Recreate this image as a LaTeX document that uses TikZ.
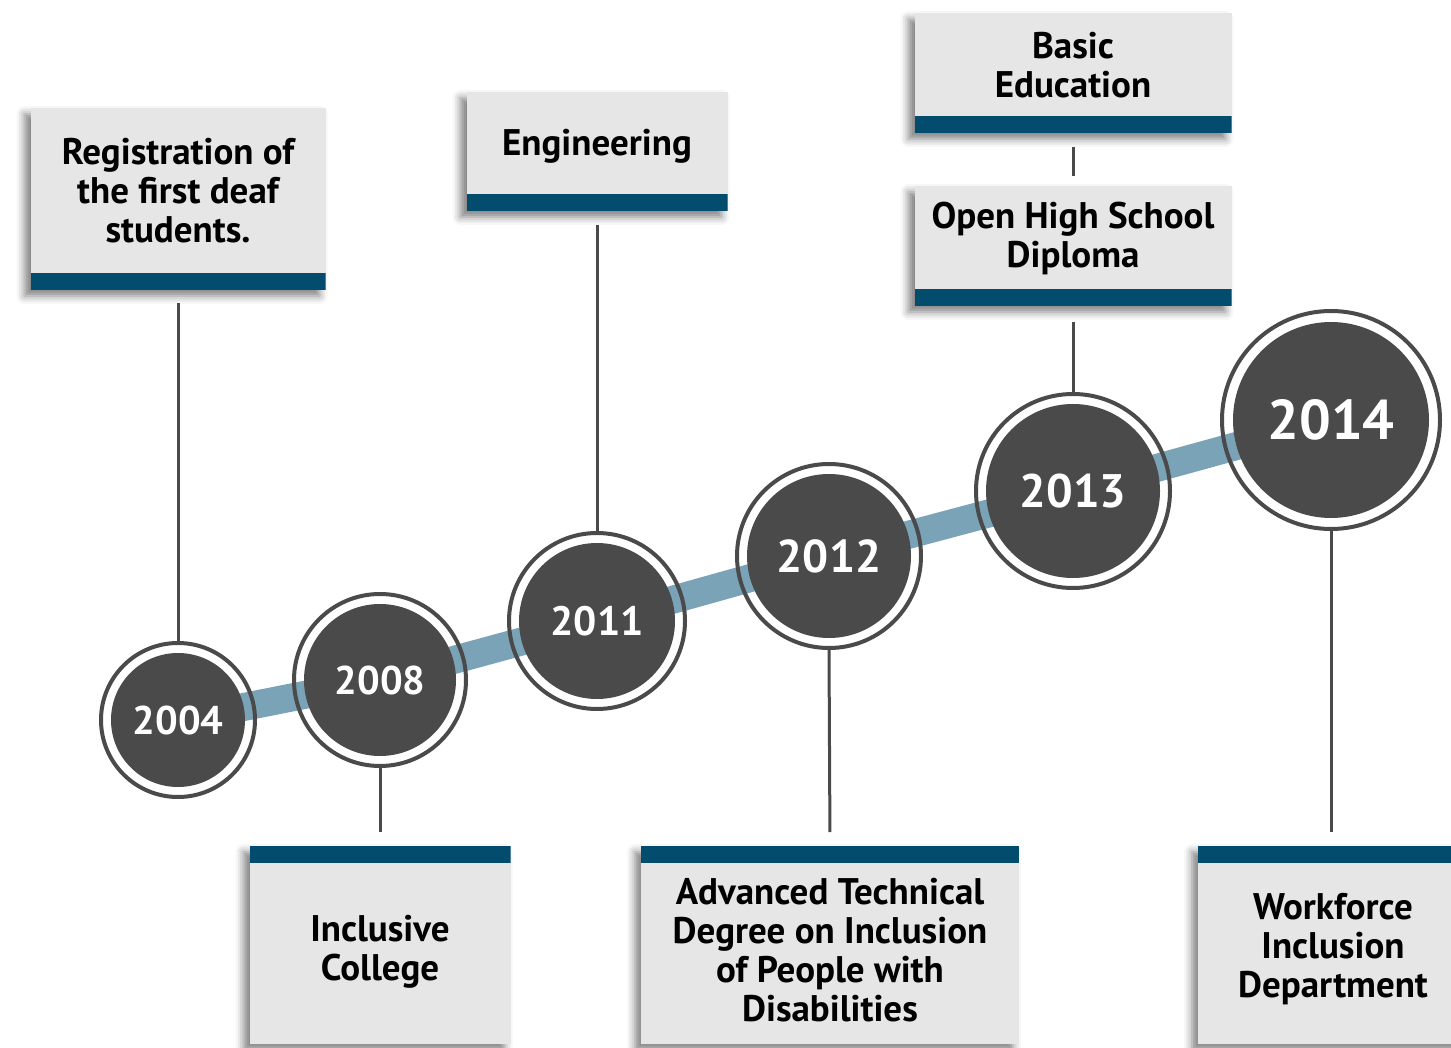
\documentclass[tikz,border=0pt]{standalone}
\usepackage{fontspec}
\setmainfont{PT Sans}
\usetikzlibrary{shadows.blur}
\definecolor{barblue}{RGB}{4,76,110}
\definecolor{boxgray}{RGB}{230,230,230}
\definecolor{darkgray}{RGB}{74,74,74}
\definecolor{lineblue}{RGB}{123,163,183}
\begin{document}
\begin{tikzpicture}[x=1pt,y=-1pt,
  card/.style={fill=boxgray, draw=none, inner sep=0pt, outer sep=0pt,
    blur shadow={shadow xshift=-6pt, shadow yshift=-6pt, shadow blur radius=8pt, shadow opacity=50}},
  topcard/.style={card, path picture={\fill[barblue] (path picture bounding box.south west) rectangle ([yshift=17pt]path picture bounding box.south east);}},
  botcard/.style={card, path picture={\fill[barblue] (path picture bounding box.north west) rectangle ([yshift=-17pt]path picture bounding box.north east);}},
  cardtext/.style={font=\bfseries\fontsize{37}{39}\selectfont, align=center, text=black, inner sep=0pt},
  whitedisk/.style={circle, fill=white, draw=none, inner sep=0pt, outer sep=0pt},
  ring/.style={circle, draw=darkgray, line width=4pt, inner sep=0pt},
  disk/.style={circle, fill=darkgray, inner sep=0pt, text=white},
  conn/.style={draw=darkgray, line width=3pt},
  band/.style={draw=lineblue, line width=28pt, line join=round}
]
\useasboundingbox (0,0) rectangle (1451,1048);

% cards
\node[topcard, minimum width=295pt, minimum height=182pt] (b1) at (178,199) {};
\node[cardtext] (t1) at (178,191) {Registration of\\the first deaf\\students.};
\node[topcard, minimum width=261pt, minimum height=119pt] (b2) at (597,151.5) {};
\node[cardtext] (t2) at (597,146) {Engineering};
\node[topcard, minimum width=317pt, minimum height=120pt] (b3) at (1073,73) {};
\node[cardtext] (t3) at (1073,65) {Basic\\Education};
\node[topcard, minimum width=317pt, minimum height=120pt] (b4) at (1073,246) {};
\node[cardtext] (t4) at (1073,238) {Open High School\\Diploma};
\node[botcard, minimum width=261pt, minimum height=198pt] (b5) at (380,945) {};
\node[cardtext] (t5) at (380,952) {Inclusive\\College};
\node[botcard, minimum width=378pt, minimum height=198pt] (b6) at (830,945) {};
\node[cardtext] (t6) at (830,950) {Advanced Technical\\Degree on Inclusion\\of People with\\Disabilities};
\node[botcard, minimum width=266pt, minimum height=198pt] (b7) at (1331,945) {};
\node[cardtext] (t7) at (1333,949) {Workforce\\Inclusion\\Department};

% white disks
\node[whitedisk, minimum size=158pt] (w2004) at (178,720) {};
\node[whitedisk, minimum size=176pt] (w2008) at (380,680) {};
\node[whitedisk, minimum size=180pt] (w2011) at (597,621) {};
\node[whitedisk, minimum size=188pt] (w2012) at (829,556) {};
\node[whitedisk, minimum size=198pt] (w2013) at (1073,491) {};
\node[whitedisk, minimum size=222pt] (w2014) at (1331,420) {};

% blue band
\draw[band] (w2004.center) -- (w2008.center) -- (w2011.center) -- (w2012.center) -- (w2013.center) -- (w2014.center);

% rings
\node[ring, minimum size=154pt] (r2004) at (w2004) {};
\node[ring, minimum size=172pt] (r2008) at (w2008) {};
\node[ring, minimum size=176pt] (r2011) at (w2011) {};
\node[ring, minimum size=184pt] (r2012) at (w2012) {};
\node[ring, minimum size=194pt] (r2013) at (w2013) {};
\node[ring, minimum size=218pt] (r2014) at (w2014) {};

% dark disks
\node[disk, minimum size=134pt, font=\bfseries\fontsize{40}{40}\selectfont] (c2004) at (w2004) {2004};
\node[disk, minimum size=152pt, font=\bfseries\fontsize{40}{40}\selectfont] (c2008) at (w2008) {2008};
\node[disk, minimum size=156pt, font=\bfseries\fontsize{41}{41}\selectfont] (c2011) at (w2011) {2011};
\node[disk, minimum size=164pt, font=\bfseries\fontsize{46}{46}\selectfont] (c2012) at (w2012) {2012};
\node[disk, minimum size=174pt, font=\bfseries\fontsize{47}{47}\selectfont] (c2013) at (w2013) {2013};
\node[disk, minimum size=196pt, font=\bfseries\fontsize{56}{56}\selectfont] (c2014) at (w2014) {2014};

% connectors
\draw[conn, shorten <=13pt] (b1.south) -- (r2004.north);
\draw[conn, shorten <=14pt] (b2.south) -- (r2011.north);
\draw[conn, shorten <=14pt, shorten >=10pt] (b3.south) -- (b4.north);
\draw[conn, shorten <=16pt] (b4.south) -- (r2013.north);
\draw[conn, shorten >=14pt] (r2008.south) -- (b5.north);
\draw[conn, shorten >=14pt] (r2012.south) -- (b6.north);
\draw[conn, shorten >=14pt] (r2014.south) -- (b7.north);
\end{tikzpicture}
\end{document}
